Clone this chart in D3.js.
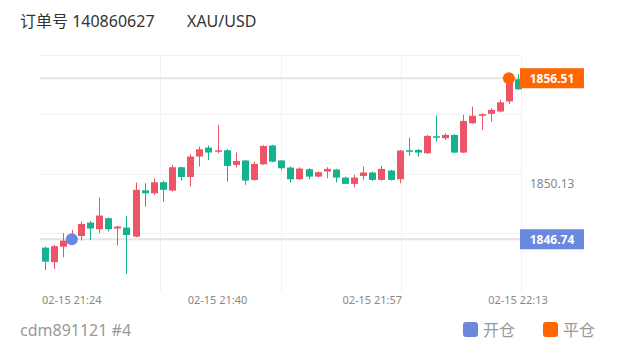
<!DOCTYPE html>
<html>
<head>
<meta charset="utf-8">
<script src="https://cdn.jsdelivr.net/npm/d3@7"></script>
<style>
  body { margin: 0; background: #fff; }
  svg { display: block; font-family: "Noto Sans", "Noto Sans CJK SC", sans-serif; }
</style>
</head>
<body>
<div id="chart"></div>
<script>
// minute candles, XAU/USD, 02-15
const times = ["21:21","21:22","21:23","21:24","21:25","21:26","21:27","21:28","21:29","21:30",
  "21:31","21:32","21:33","21:34","21:35","21:36","21:37","21:38","21:39","21:40",
  "21:41","21:42","21:43","21:44","21:45","21:46","21:47","21:48","21:49","21:50",
  "21:51","21:52","21:53","21:54","21:55","21:56","21:57","21:58","21:59","22:00",
  "22:01","22:02","22:03","22:04","22:05","22:06","22:07","22:08","22:09","22:10",
  "22:11","22:12","22:13"];
const open = [1846.23,1845.35,1846.29,1846.54,1846.94,1847.75,1847.35,1848.02,1847.39,1847.45,
  1846.90,1849.71,1849.53,1850.20,1849.69,1851.11,1850.52,1851.76,1852.30,1852.06,
  1852.14,1851.25,1851.52,1850.34,1851.29,1852.43,1851.52,1851.09,1850.38,1850.99,
  1850.54,1850.85,1850.97,1850.48,1850.10,1850.58,1850.79,1850.34,1850.91,1850.38,
  1852.14,1852.16,1851.96,1852.99,1852.87,1853.07,1852.00,1853.78,1854.23,1854.35,
  1854.49,1855.10,1856.45];
const high = [1846.29,1846.40,1847.11,1847.31,1847.81,1847.85,1849.27,1848.06,1847.55,1848.16,
  1850.18,1850.14,1850.44,1850.30,1851.25,1851.15,1851.90,1852.36,1852.43,1853.68,
  1852.22,1852.00,1851.55,1851.45,1852.45,1852.47,1851.55,1851.15,1851.11,1851.05,
  1850.85,1851.11,1851.01,1850.54,1850.65,1851.15,1850.85,1851.19,1850.95,1852.16,
  1852.91,1852.22,1853.07,1854.25,1853.17,1853.11,1854.29,1854.79,1854.39,1854.69,
  1855.20,1856.51,1856.75];
const low = [1844.88,1844.94,1845.65,1846.40,1846.66,1846.70,1847.11,1847.21,1846.36,1844.64,
  1846.86,1848.72,1849.43,1849.01,1849.63,1850.30,1849.94,1851.15,1851.55,1851.96,
  1850.24,1851.11,1850.04,1850.30,1851.25,1851.41,1850.95,1850.18,1850.34,1850.38,
  1850.50,1850.44,1850.18,1850.08,1849.88,1850.34,1850.28,1850.28,1850.30,1850.14,
  1851.80,1851.76,1851.92,1852.67,1852.77,1851.96,1851.96,1853.74,1853.38,1853.88,
  1854.43,1854.95,1855.80];
const close = [1845.38,1846.32,1846.66,1846.90,1847.67,1847.39,1848.18,1847.35,1847.51,1847.00,
  1849.74,1849.53,1850.20,1849.74,1851.11,1850.52,1851.76,1852.20,1852.00,1852.14,
  1851.19,1851.49,1850.30,1851.31,1852.40,1851.45,1851.05,1850.38,1851.03,1850.54,
  1850.81,1851.01,1850.48,1850.10,1850.48,1850.79,1850.34,1851.01,1850.34,1852.12,
  1852.08,1852.00,1853.01,1852.91,1853.07,1852.00,1853.92,1854.23,1854.33,1854.59,
  1855.05,1856.41,1855.84];

const xTicks = ["21:24", "21:40", "21:57", "22:13"];
const dateLabel = "02-15";
const axisPrice = 1850.13;
const priceRange = [1843.54, 1857.92];

// trades: open (开仓) and close (平仓)
const tradeNames = ["开仓", "平仓"];
const tradeTimes = ["21:24", "22:12"];
const tradePrices = [1846.74, 1856.51];
const tradeColors = ["#6a88e0", "#ff6600"];

const W = 620, H = 352;
const plot = {left: 40, right: 521, top: 55, bottom: 292};

const parseTime = d3.timeParse("%H:%M");
const data = times.map((t, i) => ({
    t: parseTime(t), o: open[i], h: high[i], l: low[i], c: close[i]
}));

const svg = d3.select("#chart").append("svg")
    .attr("width", W)
    .attr("height", H);

const x = d3.scaleTime()
    .domain([parseTime(times[0]), parseTime(times[times.length - 1])])
    .range([44.5, 518]);
const y = d3.scaleLinear()
    .domain(priceRange)
    .range([plot.bottom, plot.top]);

// title
svg.append("text").attr("x", 20).attr("y", 27)
    .style("font-size", "16px").style("fill", "#333")
    .text("订单号 140860627");
svg.append("text").attr("x", 187).attr("y", 27)
    .style("font-size", "16px").style("fill", "#333")
    .text("XAU/USD");

// grid
const grid = svg.append("g");
const yGrid = d3.range(0, 4).map(k => priceRange[0] + (priceRange[1] - priceRange[0]) * (k + 1) / 4);
grid.selectAll(".hg").data(yGrid).enter().append("line")
    .attr("x1", plot.left).attr("x2", plot.right)
    .attr("y1", d => Math.round(y(d)) + 0.5).attr("y2", d => Math.round(y(d)) + 0.5)
    .style("stroke", "#f2f2f2");
const xGrid = d3.range(1, 5).map(k => plot.left + (plot.right - plot.left) * k / 4);
grid.selectAll(".vg").data(xGrid).enter().append("line")
    .attr("x1", d => Math.round(d) + 0.5).attr("x2", d => Math.round(d) + 0.5)
    .attr("y1", plot.top).attr("y2", plot.bottom)
    .style("stroke", "#f2f2f2");

// trade price lines
svg.selectAll(".pl").data(tradePrices).enter().append("line")
    .attr("x1", plot.left).attr("x2", plot.right)
    .attr("y1", d => y(d)).attr("y2", d => y(d))
    .style("stroke", "#e4e4e4").style("stroke-width", 2);

// candles
const up = "#ec5467", down = "#14b38e";
const candles = svg.append("g").selectAll("g").data(data).enter().append("g");
candles.append("line")
    .attr("x1", d => Math.round(x(d.t)) + 0.5).attr("x2", d => Math.round(x(d.t)) + 0.5)
    .attr("y1", d => y(d.h)).attr("y2", d => y(d.l))
    .style("stroke", d => d.c >= d.o ? up : down);
candles.append("rect")
    .attr("x", d => Math.round(x(d.t)) - 3)
    .attr("width", 7)
    .attr("y", d => y(Math.max(d.o, d.c)))
    .attr("height", d => Math.max(1.5, Math.abs(y(d.o) - y(d.c))))
    .style("fill", d => d.c >= d.o ? up : down);

// right axis label
svg.append("text").attr("x", 530).attr("y", y(axisPrice)).attr("dy", "0.35em")
    .style("font-size", "12px").style("fill", "#888")
    .text(axisPrice.toFixed(2));

// trade markers and price tags
tradePrices.forEach((p, i) => {
    svg.append("circle")
        .attr("cx", x(parseTime(tradeTimes[i]))).attr("cy", y(p)).attr("r", 6)
        .style("fill", tradeColors[i]);
    svg.append("rect")
        .attr("x", 520).attr("y", y(p) - 10).attr("width", 64).attr("height", 20)
        .style("fill", tradeColors[i]);
    svg.append("text").attr("x", 552).attr("y", y(p)).attr("dy", "0.36em")
        .attr("text-anchor", "middle")
        .style("font-size", "12px").style("font-weight", "bold").style("fill", "#fff")
        .text(p.toFixed(2));
});

// x axis labels
svg.selectAll(".xl").data(xTicks).enter().append("text")
    .attr("x", d => x(parseTime(d))).attr("y", 304)
    .attr("text-anchor", "middle")
    .style("font-size", "11px").style("fill", "#888")
    .text(d => dateLabel + " " + d);

// footer
svg.append("text").attr("x", 20).attr("y", 336)
    .style("font-size", "16px").style("fill", "#999")
    .text("cdm891121 #4");
const legend = svg.selectAll(".lg").data(tradeNames).enter().append("g")
    .attr("transform", (d, i) => "translate(" + (463 + i * 80) + ",0)");
legend.append("rect")
    .attr("x", 0).attr("y", 322).attr("width", 15).attr("height", 15).attr("rx", 3)
    .style("fill", (d, i) => tradeColors[i]);
legend.append("text").attr("x", 20).attr("y", 336)
    .style("font-size", "16px").style("fill", "#999")
    .text(d => d);
</script>
</body>
</html>
